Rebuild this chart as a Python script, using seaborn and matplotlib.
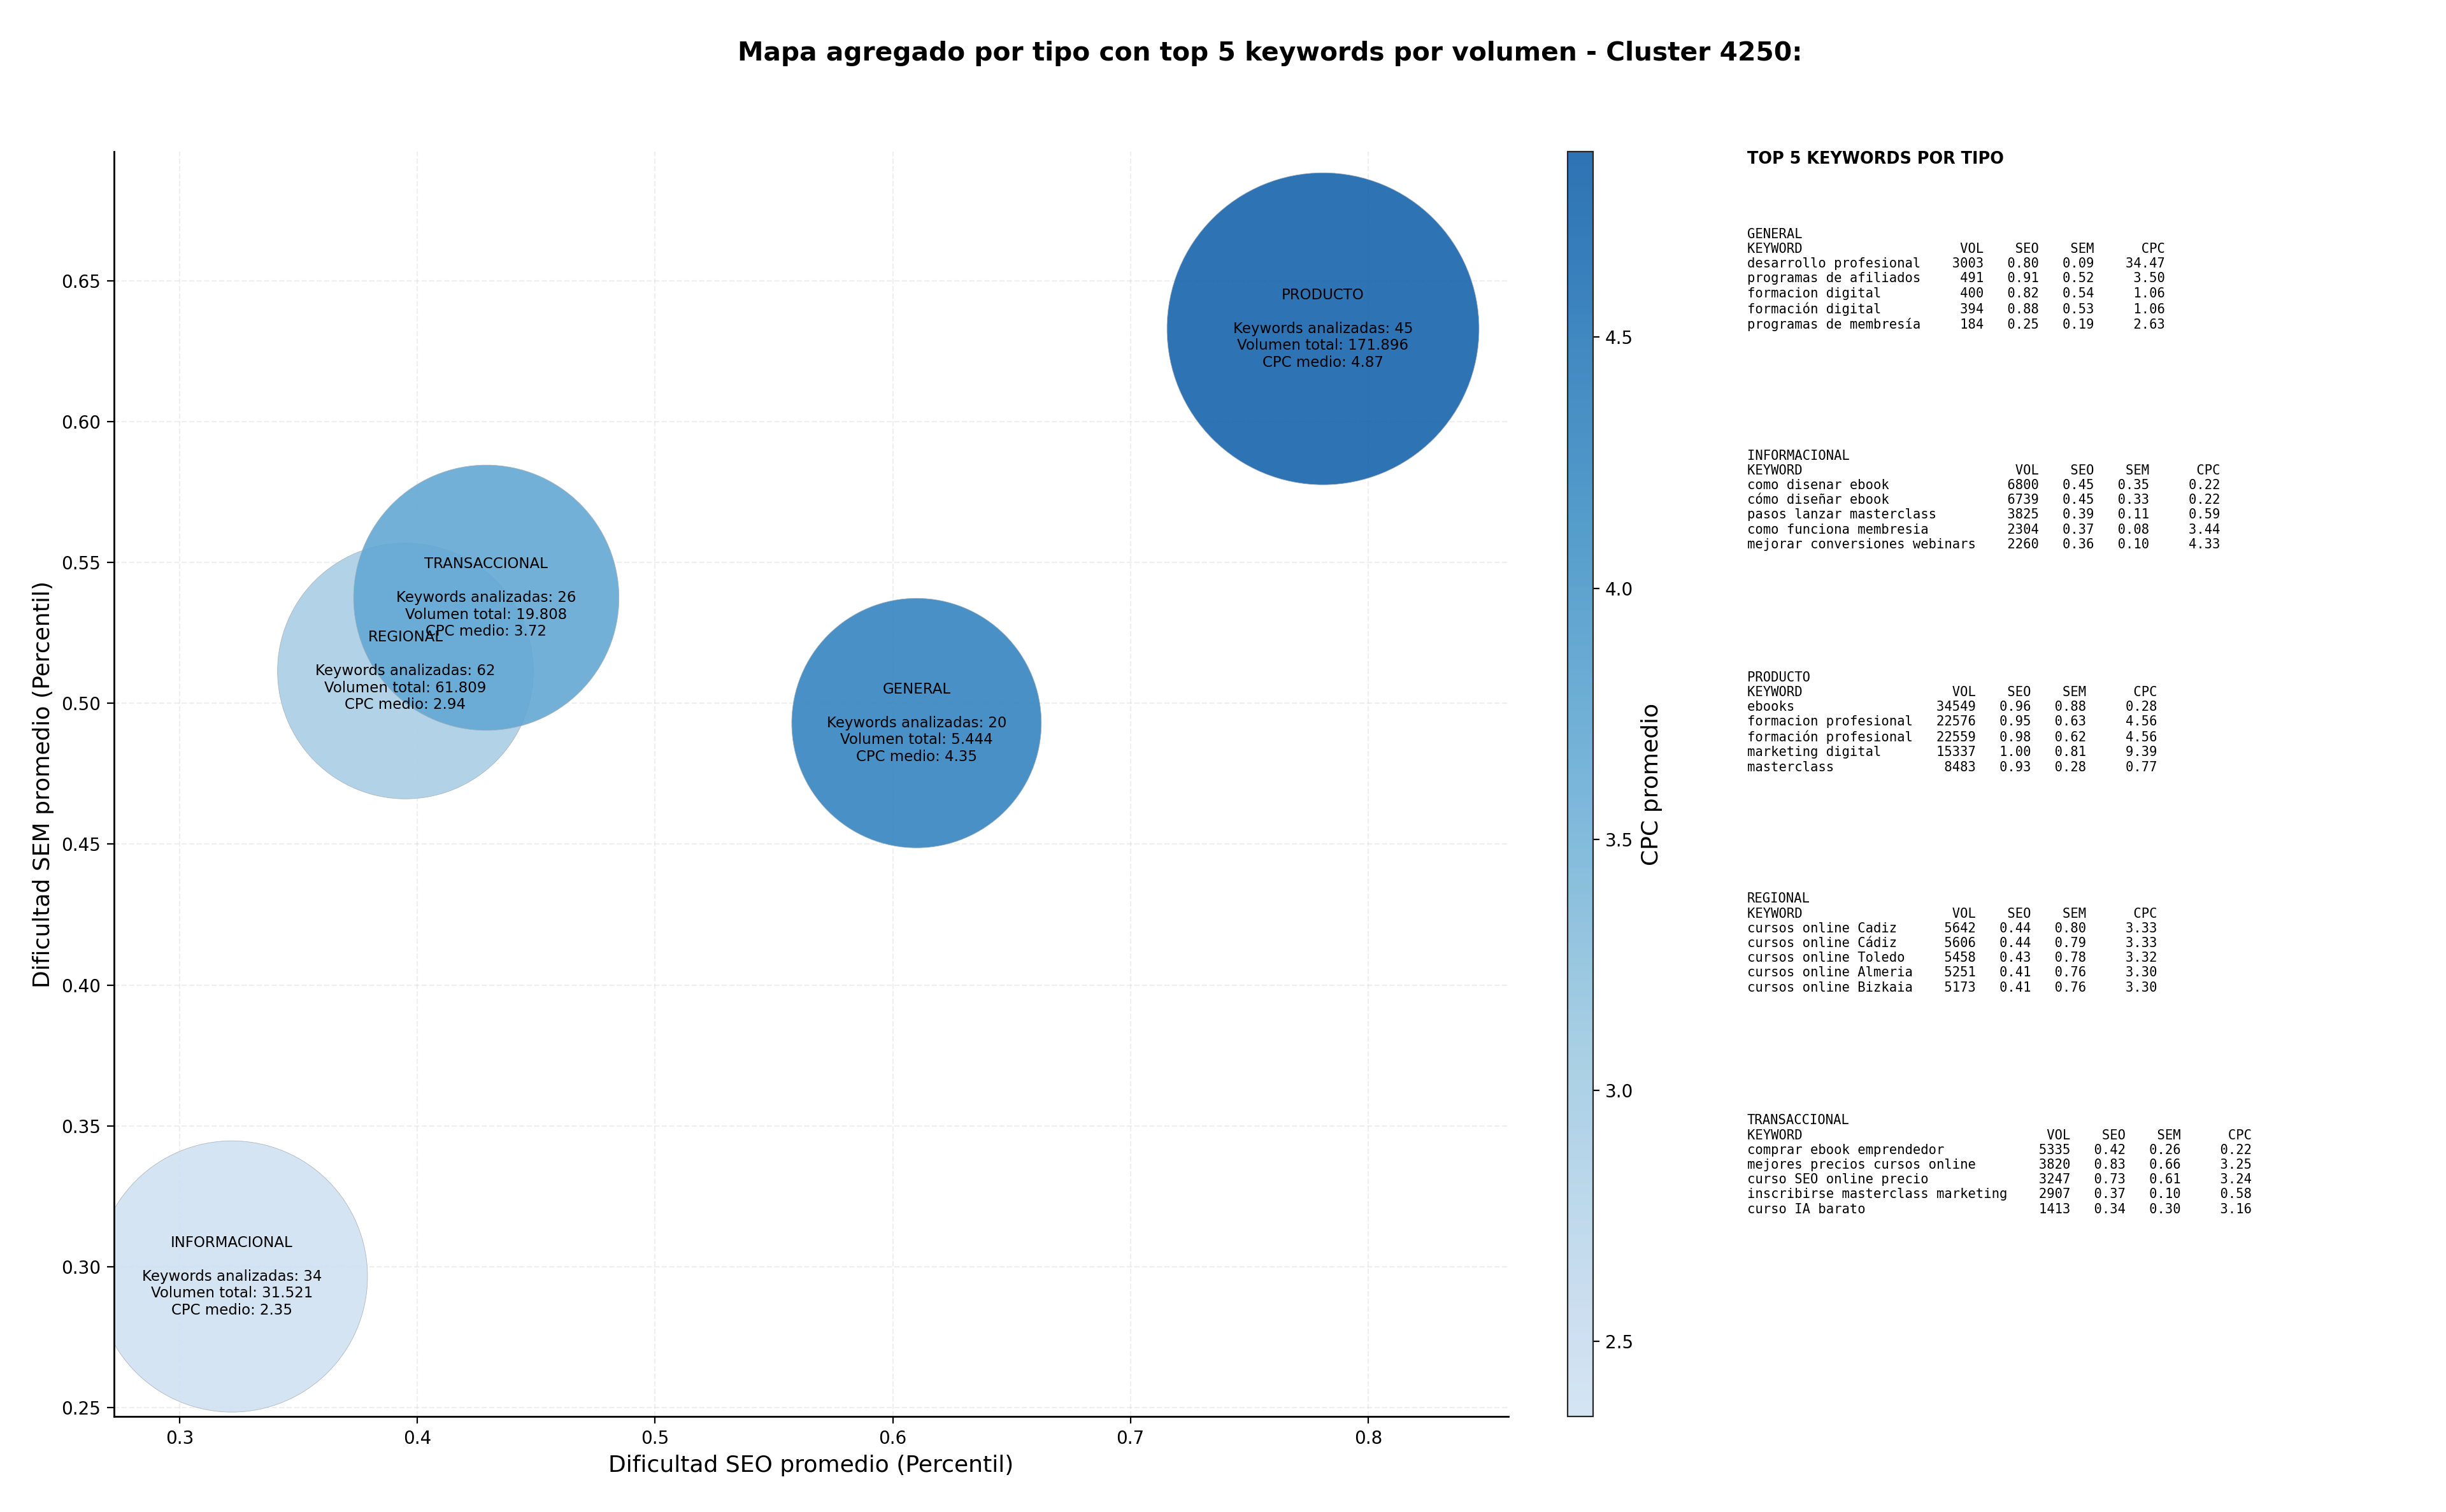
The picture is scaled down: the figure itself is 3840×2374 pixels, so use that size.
import numpy as np
import pandas as pd
import matplotlib
matplotlib.use("Agg")
import matplotlib.pyplot as plt
import seaborn as sns
from matplotlib.colors import LinearSegmentedColormap, ListedColormap, Normalize
from matplotlib.cm import ScalarMappable

# ---------------- data ----------------
tipos = ["GENERAL", "INFORMACIONAL", "PRODUCTO", "REGIONAL", "TRANSACCIONAL"]
seo_promedio = [0.610, 0.322, 0.781, 0.395, 0.429]
sem_promedio = [0.493, 0.2965, 0.633, 0.5115, 0.5375]
cpc_medio = [4.35, 2.35, 4.87, 2.94, 3.72]
keywords_analizadas = [20, 34, 45, 62, 26]
volumen_total = ["5.444", "31.521", "171.896", "61.809", "19.808"]
bubble_area = [19900, 23500, 31100, 20900, 22500]

top_general = [
    ("desarrollo profesional", 3003, 0.80, 0.09, 34.47),
    ("programas de afiliados", 491, 0.91, 0.52, 3.50),
    ("formacion digital", 400, 0.82, 0.54, 1.06),
    ("formación digital", 394, 0.88, 0.53, 1.06),
    ("programas de membresía", 184, 0.25, 0.19, 2.63),
]
top_informacional = [
    ("como disenar ebook", 6800, 0.45, 0.35, 0.22),
    ("cómo diseñar ebook", 6739, 0.45, 0.33, 0.22),
    ("pasos lanzar masterclass", 3825, 0.39, 0.11, 0.59),
    ("como funciona membresia", 2304, 0.37, 0.08, 3.44),
    ("mejorar conversiones webinars", 2260, 0.36, 0.10, 4.33),
]
top_producto = [
    ("ebooks", 34549, 0.96, 0.88, 0.28),
    ("formacion profesional", 22576, 0.95, 0.63, 4.56),
    ("formación profesional", 22559, 0.98, 0.62, 4.56),
    ("marketing digital", 15337, 1.00, 0.81, 9.39),
    ("masterclass", 8483, 0.93, 0.28, 0.77),
]
top_regional = [
    ("cursos online Cadiz", 5642, 0.44, 0.80, 3.33),
    ("cursos online Cádiz", 5606, 0.44, 0.79, 3.33),
    ("cursos online Toledo", 5458, 0.43, 0.78, 3.32),
    ("cursos online Almeria", 5251, 0.41, 0.76, 3.30),
    ("cursos online Bizkaia", 5173, 0.41, 0.76, 3.30),
]
top_transaccional = [
    ("comprar ebook emprendedor", 5335, 0.42, 0.26, 0.22),
    ("mejores precios cursos online", 3820, 0.83, 0.66, 3.25),
    ("curso SEO online precio", 3247, 0.73, 0.61, 3.24),
    ("inscribirse masterclass marketing", 2907, 0.37, 0.10, 0.58),
    ("curso IA barato", 1413, 0.34, 0.30, 3.16),
]
top_por_tipo = [top_general, top_informacional, top_producto, top_regional, top_transaccional]

x_ticks = [0.3, 0.4, 0.5, 0.6, 0.7, 0.8]
y_ticks = [0.25, 0.30, 0.35, 0.40, 0.45, 0.50, 0.55, 0.60, 0.65]
cbar_ticks = [2.5, 3.0, 3.5, 4.0, 4.5]

df = pd.DataFrame({
    "tipo": tipos,
    "seo": seo_promedio,
    "sem": sem_promedio,
    "cpc": cpc_medio,
    "area": bubble_area,
})

# ---------------- style ----------------
sns.set_style("white")
plt.rcParams["font.family"] = ["DejaVu Sans"]
plt.rcParams.update({
    "text.color": "black", "axes.labelcolor": "black",
    "xtick.color": "black", "ytick.color": "black",
})

blues = plt.get_cmap("Blues")
cmap = LinearSegmentedColormap.from_list("blues_trunc", blues(np.linspace(0.2, 0.8, 256)))
cb_colors = cmap(np.linspace(0, 1, 256))
cb_colors[:, 3] = 0.9
cmap_cb = ListedColormap(cb_colors)
norm = Normalize(vmin=min(cpc_medio), vmax=max(cpc_medio))

fig = plt.figure(figsize=(19.2, 11.87), dpi=200)
ax = fig.add_axes([0.0466, 0.0630, 0.5701, 0.8369])
cax = fig.add_axes([0.6410, 0.0630, 0.0102, 0.8369])

sns.scatterplot(
    data=df, x="seo", y="sem", hue="cpc", palette=cmap, hue_norm=norm,
    size="area", sizes={a: a for a in bubble_area}, alpha=0.9,
    edgecolor="#a8b0b8", linewidth=0.3, legend=False, ax=ax, zorder=2,
)

for t, xs, ys, n, v, c in zip(tipos, seo_promedio, sem_promedio,
                              keywords_analizadas, volumen_total, cpc_medio):
    ax.text(xs, ys, f"{t}\n\nKeywords analizadas: {n}\nVolumen total: {v}\nCPC medio: {c:.2f}",
            ha="center", va="center", fontsize=8.25, zorder=5)

ax.set_xlim(0.2724, 0.859)
ax.set_ylim(0.2467, 0.696)
ax.set_xticks(x_ticks)
ax.set_yticks(y_ticks)
ax.tick_params(axis="both", labelsize=10, length=4, left=True, bottom=True)
ax.grid(True, linestyle="--", alpha=0.3, zorder=0)
ax.set_axisbelow(True)
ax.set_xlabel("Dificultad SEO promedio (Percentil)", fontsize=13)
ax.set_ylabel("Dificultad SEM promedio (Percentil)", fontsize=13)
sns.despine(ax=ax)
for s in ["left", "bottom"]:
    ax.spines[s].set_color("black")
    ax.spines[s].set_linewidth(1.0)

sm = ScalarMappable(norm=norm, cmap=cmap_cb)
cb = fig.colorbar(sm, cax=cax)
cb.set_ticks(cbar_ticks)
cb.ax.tick_params(labelsize=10)
cb.set_label("CPC promedio", fontsize=13)

fig.suptitle("Mapa agregado por tipo con top 5 keywords por volumen - Cluster 4250:",
             fontsize=14.7, fontweight="bold", x=0.5191, y=0.973)

# right-side text panel
tx = 0.7143
fig.text(tx, 0.9, "TOP 5 KEYWORDS POR TIPO", fontsize=9.2, fontweight="bold", va="top", ha="left")
block_tops = [0.8493, 0.7028, 0.5562, 0.4097, 0.2631]
for t, rows, yt in zip(tipos, top_por_tipo, block_tops):
    w = max(len(r[0]) for r in rows)
    lines = [t, f"{'KEYWORD':<{w}} {'VOL':>7} {'SEO':>6} {'SEM':>6} {'CPC':>8}"]
    for kw, vol, seo, sem, cpc in rows:
        lines.append(f"{kw:<{w}} {vol:>7d} {seo:>6.2f} {sem:>6.2f} {cpc:>8.2f}")
    fig.text(tx, yt, "\n".join(lines), fontsize=7.4, family="DejaVu Sans Mono",
             va="top", ha="left", linespacing=1.2)

fig.savefig("out.png", dpi=200)
